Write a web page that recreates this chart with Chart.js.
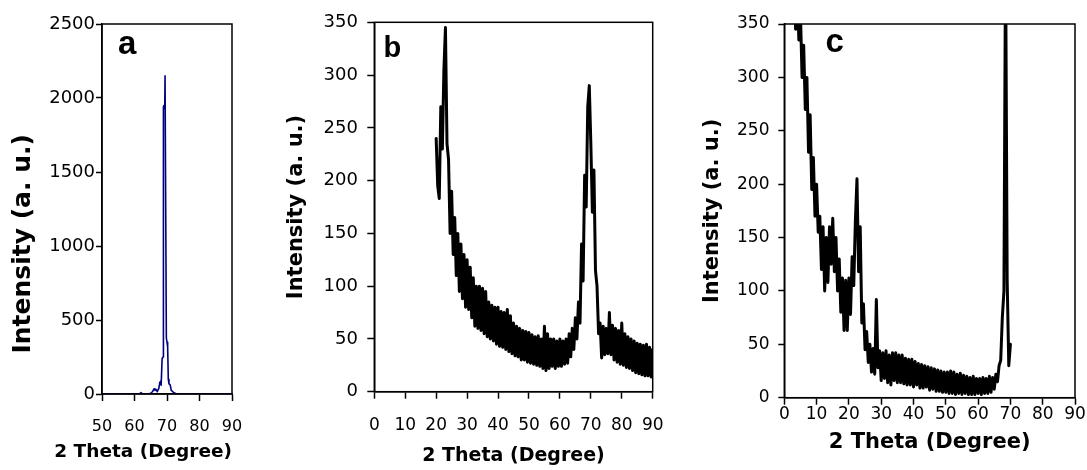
<!DOCTYPE html>
<html>
<head>
<meta charset="utf-8">
<script src="https://cdn.jsdelivr.net/npm/chart.js@4.4.1/dist/chart.umd.min.js"></script>
<style>
  html, body { margin: 0; padding: 0; background: #ffffff; }
  #wrap { position: relative; width: 1087px; height: 470px; overflow: hidden; background: #ffffff; }
  #wrap canvas { position: absolute; left: 0; top: 0; }
</style>
</head>
<body>
<div id="wrap">
  <canvas id="chartA" width="1087" height="470"></canvas>
  <canvas id="chartB" width="1087" height="470"></canvas>
  <canvas id="chartC" width="1087" height="470"></canvas>
</div>
<script>
// ---------------- DATA ----------------
const xTitle = '2 Theta (Degree)';
const yTitle = 'Intensity (a. u.)';
const panelLetters = ['a', 'b', 'c'];

// Panel a (2 theta vs intensity)
const aX = [50, 55, 60, 61.5, 62, 62.5, 64, 65, 65.5, 66, 66.3, 66.7, 67, 67.5, 67.8, 68, 68.2, 68.5, 68.8, 68.9, 69.1, 69.3, 69.4, 69.6, 69.8, 70.0, 70.2, 70.4, 70.6, 71, 71.3, 71.6, 72, 72.5, 73, 75, 80, 85, 90];
const aY = [0, 0, 0, 0, 10, 0, 0, 5, 15, 35, 25, 30, 15, 40, 80, 85, 60, 240, 250, 1940, 1950, 1930, 2150, 2150, 380, 350, 320, 100, 70, 60, 25, 20, 10, 5, 0, 0, 0, 0, 0];
const aXTicks = [50, 60, 70, 80, 90];
const aYTicks = [0, 500, 1000, 1500, 2000, 2500];

// Panel b: 2 theta from 20 to 90, every 0.5 degree
const bStart = 20, bStep = 0.5;
const bY = [
  240,195,183,270,230,305,345,235,220,150,
  190,130,165,110,150,95,140,88,130,80,
  125,78,118,70,108,62,100,60,100,58,
  98,55,95,52,85,50,82,48,80,45,
  80,43,76,42,75,40,78,38,72,36,
  65,34,62,33,60,30,58,30,57,28,
  56,27,54,26,52,25,53,24,50,22,
  62,20,55,22,50,24,50,22,48,24,
  50,24,48,26,50,27,55,33,60,40,
  70,50,85,65,140,105,205,175,270,290,
  235,170,210,115,100,55,65,32,62,35,
  60,36,75,35,63,30,60,28,58,26,
  65,25,55,23,52,22,50,20,48,18,
  46,17,45,16,44,15,45,15,42,14,
  40
];
const bXTicks = [0, 10, 20, 30, 40, 50, 60, 70, 80, 90];
const bYTicks = [0, 50, 100, 150, 200, 250, 300, 350];

// Panel c: 2 theta from 3 to 70, every 0.5 degree
const cStart = 3, cStep = 0.5;
const cY = [
  420,345,390,335,360,300,330,270,300,230,
  265,195,225,170,200,155,170,120,160,100,
  150,108,160,125,168,118,150,100,130,80,
  112,63,110,63,112,78,132,105,165,205,
  118,160,70,88,45,62,33,50,24,46,
  22,92,28,44,16,42,18,44,14,40,
  12,42,16,42,14,40,14,40,13,37,
  12,36,12,36,10,34,12,32,9,31,
  9,30,10,29,7,28,8,27,6,26,
  6,25,5,24,5,24,4,25,4,24,
  3,22,4,23,3,21,4,20,3,19,
  3,20,3,18,4,18,3,19,4,18,
  4,20,5,19,8,22,15,30,35,75,
  100,420,110,30,50
];
const cXTicks = [0, 10, 20, 30, 40, 50, 60, 70, 80, 90];
const cYTicks = [0, 50, 100, 150, 200, 250, 300, 350];

// ---------------- DRAWING ----------------
const panelPlugin = {
  id: 'panel',
  afterDatasetsDraw(chart, args, o) {
    const { ctx, chartArea: ca } = chart;
    ctx.save();
    ctx.strokeStyle = '#000';
    ctx.lineWidth = 1.5;
    ctx.strokeRect(ca.left, ca.top, ca.right - ca.left, ca.bottom - ca.top);
    ctx.font = o.font;
    ctx.fillStyle = '#000';
    ctx.textAlign = 'left';
    ctx.textBaseline = 'alphabetic';
    ctx.fillText(o.letter, o.x, o.y);
    ctx.restore();
  }
};

const FAMILY = '"DejaVu Sans", sans-serif';

function makePanel(id, points, color, lw, L) {
  const useChartTitles = !!L.chartTitles;
  return new Chart(document.getElementById(id), {
    type: 'scatter',
    data: {
      datasets: [{
        data: points,
        showLine: true,
        borderColor: color,
        backgroundColor: color,
        borderWidth: lw,
        borderJoinStyle: 'round',
        borderCapStyle: 'round',
        pointRadius: 0,
        pointHoverRadius: 0,
        fill: false,
        tension: 0
      }]
    },
    options: {
      responsive: false,
      animation: false,
      events: [],
      layout: { padding: { left: L.padL, right: L.padR, top: L.padT, bottom: L.padB } },
      plugins: {
        legend: { display: false },
        tooltip: { enabled: false },
        // panel a uses the chart-level title/subtitle boxes for its axis titles
        title: {
          display: useChartTitles, text: yTitle, position: 'left', align: 'center', color: '#000',
          padding: 0, font: { family: FAMILY, weight: 'bold', size: L.yTitleSize }
        },
        subtitle: {
          display: useChartTitles, text: xTitle, position: 'bottom', align: 'end', color: '#000',
          padding: 0, font: { family: FAMILY, weight: 'bold', size: L.xTitleSize }
        },
        panel: { letter: L.letter, font: L.letterFont, x: L.letterX, y: L.letterY }
      },
      scales: {
        x: {
          type: 'linear',
          position: 'bottom',
          min: L.xTicks[0],
          max: L.xTicks[L.xTicks.length - 1],
          afterFit: s => { s.height = L.xH; },
          afterBuildTicks: s => { s.ticks = L.xTicks.map(v => ({ value: v })); },
          grid: { display: true, drawOnChartArea: false, drawTicks: true, tickLength: 7, tickWidth: 1.5, tickColor: '#000', color: '#000' },
          border: { display: true, color: '#000', width: 1.5 },
          ticks: {
            color: '#000', autoSkip: false, maxRotation: 0, minRotation: 0,
            padding: L.xTickPad,
            font: { family: FAMILY, size: L.xTickSize },
            callback: v => String(v)
          },
          title: {
            display: !useChartTitles, text: xTitle, color: '#000', padding: 0,
            font: { family: FAMILY, weight: 'bold', size: L.xTitleSize }
          }
        },
        y: {
          type: 'linear',
          position: 'left',
          min: L.yTicks[0],
          max: L.yTicks[L.yTicks.length - 1],
          afterFit: s => { s.width = L.yW; },
          afterBuildTicks: s => { s.ticks = L.yTicks.map(v => ({ value: v })); },
          grid: { display: true, drawOnChartArea: false, drawTicks: true, tickLength: L.yTickLen, tickWidth: 1.5, tickColor: '#000', color: '#000' },
          border: { display: true, color: '#000', width: 1.5 },
          ticks: {
            color: '#000', autoSkip: false,
            padding: L.yTickPad,
            font: { family: FAMILY, size: L.yTickSize },
            callback: v => String(v)
          },
          title: {
            display: !useChartTitles, text: yTitle, color: '#000', padding: 0,
            font: { family: FAMILY, weight: 'bold', size: L.yTitleSize }
          }
        }
      }
    },
    plugins: [panelPlugin]
  });
}

const ptsA = aX.map((x, i) => ({ x: x, y: aY[i] }));
const ptsB = bY.map((y, i) => ({ x: bStart + i * bStep, y: y }));
const ptsC = cY.map((y, i) => ({ x: cStart + i * cStep, y: y }));

makePanel('chartA', ptsA, '#00007f', 1.6, {
  chartTitles: true,
  padL: 8.3, yW: 63.7, padR: 855, padT: 24, padB: 6.4, xH: 47.4,
  xTicks: aXTicks, yTicks: aYTicks,
  xTickSize: 16, xTickPad: 16.4, yTickSize: 18, yTickPad: 1, yTickLen: 6,
  xTitleSize: 18.5, yTitleSize: 25,
  letter: panelLetters[0], letterFont: 'bold 33px "Liberation Sans", Arial, sans-serif', letterX: 118, letterY: 54
});

makePanel('chartB', ptsB, '#000000', 3.0, {
  padL: 284.1, yW: 90.2, padR: 434.3, padT: 22.3, padB: 2.5, xH: 75.8,
  xTicks: bXTicks, yTicks: bYTicks,
  xTickSize: 17, xTickPad: 16.4, yTickSize: 18, yTickPad: 9.4, yTickLen: 7,
  xTitleSize: 19, yTitleSize: 21,
  letter: panelLetters[1], letterFont: 'bold 29px "Liberation Sans", Arial, sans-serif', letterX: 383.5, letterY: 57
});

makePanel('chartC', ptsC, '#000000', 3.0, {
  padL: 700.4, yW: 83.9, padR: 12, padT: 24, padB: 14.9, xH: 57.4,
  xTicks: cXTicks, yTicks: cYTicks,
  xTickSize: 17, xTickPad: 0, yTickSize: 17, yTickPad: 8.8, yTickLen: 6,
  xTitleSize: 21, yTitleSize: 21,
  letter: panelLetters[2], letterFont: 'bold 33px "Liberation Sans", Arial, sans-serif', letterX: 825.4, letterY: 51.5
});
</script>
</body>
</html>
